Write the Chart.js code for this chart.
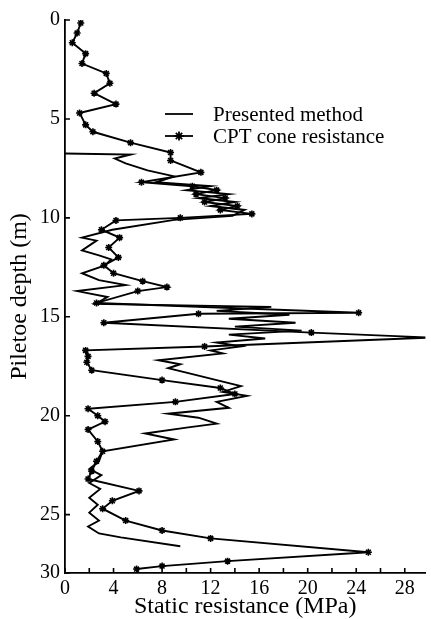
<!DOCTYPE html>
<html>
<head>
<meta charset="utf-8">
<script src="https://cdn.jsdelivr.net/npm/chart.js@4.4.0/dist/chart.umd.min.js"></script>
<style>
  html, body { margin: 0; padding: 0; background: #fff; }
</style>
</head>
<body>
<canvas id="myChart" width="431" height="619"></canvas>
<script>
// CPT cone resistance (with markers): depth (m) and resistance (MPa)
const cptDepth = [0.15, 0.66, 1.15, 1.7, 2.2, 2.7, 3.2, 3.7, 4.25, 4.7, 5.3, 5.65, 6.2, 6.7, 7.1, 7.7,
   8.2, 8.4, 8.6, 8.8, 9.0, 9.2, 9.4, 9.6, 9.8, 10.0, 10.13, 10.6, 11.0, 11.5, 12.0, 12.4, 12.8, 13.2,
   13.5, 13.7, 14.3, 14.8, 14.85, 15.3, 15.8, 16.05, 16.5, 16.7, 17.0, 17.3, 17.7, 18.2, 18.6, 18.9,
   19.3, 19.65, 20.0, 20.3, 20.7, 21.3, 21.8, 22.3, 22.8, 23.2, 23.8, 24.3, 24.7, 25.3, 25.8, 26.2,
   26.9, 27.35, 27.6, 27.75];
const cptResistance = [1.3, 1.0, 0.6, 1.7, 1.4, 3.4, 3.7, 2.4, 4.2, 1.2, 1.7, 2.3, 5.4, 8.7, 8.7, 11.2,
   6.3, 10.5, 12.5, 10.8, 13.2, 11.5, 14.2, 12.8, 15.4, 9.5, 4.2, 3.0, 4.5, 3.6, 4.4, 3.2, 4.0, 6.4,
   8.4, 6.0, 2.6, 24.2, 11.0, 3.2, 20.3, 30.2, 11.5, 1.7, 1.9, 1.8, 2.2, 8.0, 12.8, 14.0,
   9.1, 1.9, 2.7, 3.3, 1.9, 2.7, 3.1, 2.6, 2.2, 1.9, 6.1, 3.9, 3.1, 5.0, 8.0, 12.0,
   25.0, 13.4, 8.0, 5.9];

// Presented method (plain line)
const presDepth = [6.75, 6.8, 7.0, 7.25, 7.6, 7.9, 8.2, 8.4, 8.6, 8.8, 9.0, 9.2, 9.4, 9.6, 9.9, 10.1,
   10.6, 11.0, 11.15, 11.65, 11.9, 12.1, 12.4, 12.8, 13.15, 13.4, 13.7, 14.0, 14.35, 14.5, 14.7, 14.9,
   15.1, 15.3, 15.5, 15.7, 15.9, 16.1, 16.3, 16.5, 16.7, 16.85, 17.2, 17.4, 17.6, 17.9, 18.2, 18.5,
   18.8, 19.0, 19.3, 19.6, 19.9, 20.1, 20.4, 20.6, 20.9, 21.2, 21.8, 22.3, 22.7, 23.0, 23.4, 23.7,
   24.15, 24.5, 24.9, 25.3, 25.6, 25.95, 26.15, 26.6];
const presResistance = [0.0, 5.4, 4.1, 5.0, 6.8, 9.0, 7.5, 12.0, 10.0, 13.5, 11.0, 14.0, 12.0, 14.8, 13.8, 9.0,
   3.9, 1.4, 2.6, 1.4, 2.8, 3.8, 3.3, 1.4, 2.8, 5.0, 1.0, 3.5, 2.5, 17.0, 12.5, 18.5,
   13.5, 19.0, 14.0, 19.5, 13.5, 16.5, 12.5, 14.5, 12.0, 13.0, 7.7, 9.5, 8.5, 10.5, 12.5, 14.5,
   13.0, 15.0, 12.5, 13.5, 8.5, 11.0, 12.5, 10.0, 6.6, 9.0, 3.1, 2.8, 2.0, 3.0, 2.0, 2.9,
   2.0, 2.7, 2.0, 2.8, 1.9, 2.8, 4.6, 9.5];

// axis ticks
const xTickValues = [0, 2, 4, 6, 8, 10, 12, 14, 16, 18, 20, 22, 24, 26, 28];
const xTickLabels = ['0', '', '4', '', '8', '', '12', '', '16', '', '20', '', '24', '', '28'];
const yTickValues = [0, 5, 10, 15, 20, 25, 27.95];
const yTickLabels = ['0', '5', '10', '15', '20', '25', '30'];

const legendLabels = ['Presented method', 'CPT cone resistance'];

const serif = 'Liberation Serif';

const toPoints = (xs, ys) => xs.map((v, i) => ({ x: v, y: ys[i] }));

// tick marks pointing into the plot
const tickMarks = {
   id: 'tickMarks',
   afterDraw(chart) {
      const { ctx, chartArea, scales: { x, y } } = chart;
      ctx.save();
      ctx.strokeStyle = '#000';
      ctx.lineWidth = 1.6;
      ctx.beginPath();
      x.ticks.forEach(t => {
         const px = x.getPixelForValue(t.value);
         ctx.moveTo(px, chartArea.bottom);
         ctx.lineTo(px, chartArea.bottom - 5);
      });
      y.ticks.forEach(t => {
         const py = y.getPixelForValue(t.value);
         ctx.moveTo(chartArea.left, py);
         ctx.lineTo(chartArea.left + 5, py);
      });
      ctx.stroke();
      ctx.restore();
   }
};

// legend inside the plot
const insideLegend = {
   id: 'insideLegend',
   afterDraw(chart) {
      const { ctx, chartArea } = chart;
      const x0 = chartArea.left + 100;
      const rows = [chartArea.top + 94, chartArea.top + 116];
      ctx.save();
      ctx.strokeStyle = '#000';
      ctx.fillStyle = '#000';
      ctx.lineWidth = 1.8;
      rows.forEach((ry, i) => {
         ctx.beginPath();
         ctx.moveTo(x0, ry);
         ctx.lineTo(x0 + 28, ry);
         ctx.stroke();
         if (i === 1) {
            Chart.helpers.drawPoint(ctx, { pointStyle: 'star', radius: 4.5, borderWidth: 2 }, x0 + 14, ry);
         }
         ctx.font = '21px "' + serif + '"';
         ctx.textBaseline = 'middle';
         ctx.fillText(legendLabels[i], x0 + 48, ry + 1);
      });
      ctx.restore();
   }
};

let ctx = document.getElementById('myChart');
let myChart = new Chart(ctx, {
   type: 'scatter',
   data: {
      datasets: [{
         label: legendLabels[0],
         data: toPoints(presResistance, presDepth),
         showLine: true,
         borderColor: '#000',
         borderWidth: 1.9,
         pointRadius: 0
      }, {
         label: legendLabels[1],
         data: toPoints(cptResistance, cptDepth),
         showLine: true,
         borderColor: '#000',
         borderWidth: 1.9,
         pointStyle: 'star',
         pointRadius: 3.5,
         pointBorderWidth: 1.6,
         pointBorderColor: '#000',
         pointBackgroundColor: '#000'
      }]
   },
   options: {
      responsive: false,
      animation: false,
      layout: { padding: { top: 20, left: 0, right: 0, bottom: 0 } },
      plugins: {
         legend: { display: false },
         tooltip: { enabled: false }
      },
      scales: {
         x: {
            type: 'linear',
            min: 0,
            max: 29.7,
            grid: { display: false, drawTicks: false },
            border: { display: true, color: '#000', width: 1.8 },
            afterBuildTicks: s => { s.ticks = xTickValues.map(v => ({ value: v })); },
            ticks: {
               autoSkip: false,
               maxRotation: 0,
               padding: 4,
               color: '#000',
               font: { family: serif, size: 20 },
               callback: (v) => xTickLabels[xTickValues.indexOf(v)]
            },
            title: {
               display: true,
               text: 'Static resistance (MPa)',
               color: '#000',
               font: { family: serif, size: 24, lineHeight: 1.0 },
               padding: { top: 0, bottom: 0 }
            },
            afterFit: s => { s.height = 46; }
         },
         y: {
            type: 'linear',
            reverse: true,
            min: 0,
            max: 27.95,
            grid: { display: false, drawTicks: false },
            border: { display: true, color: '#000', width: 1.8 },
            afterBuildTicks: s => { s.ticks = yTickValues.map(v => ({ value: v })); },
            ticks: {
               autoSkip: false,
               padding: 5,
               color: '#000',
               font: { family: serif, size: 20 },
               callback: (v) => yTickLabels[yTickValues.indexOf(v)]
            },
            title: {
               display: true,
               text: 'Piletoe depth (m)',
               color: '#000',
               font: { family: serif, size: 24, lineHeight: 1.0 },
               padding: { top: 8, bottom: 0 }
            },
            afterFit: s => { s.width = 65; }
         }
      }
   },
   plugins: [tickMarks, insideLegend]
});
</script>
</body>
</html>
